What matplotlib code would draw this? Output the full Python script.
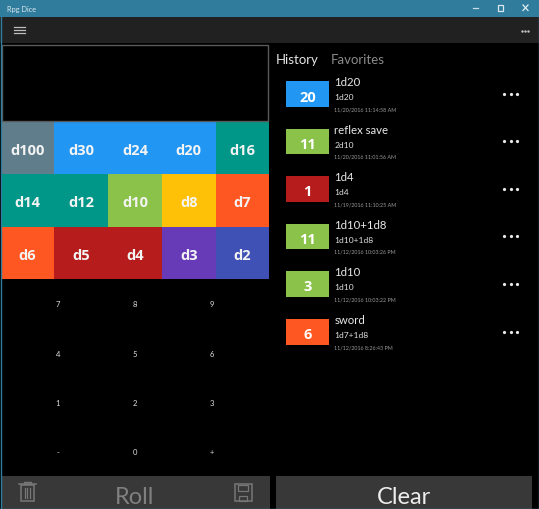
import matplotlib
matplotlib.use("Agg")
import matplotlib.pyplot as plt
from matplotlib.patches import Rectangle

plt.rcParams['font.family'] = ['Lato', 'DejaVu Sans']

W, H = 539, 510

# --- data -----------------------------------------------------------
dice_rows = [
    ["d100", "d30", "d24", "d20", "d16"],
    ["d14", "d12", "d10", "d8", "d7"],
    ["d6", "d5", "d4", "d3", "d2"],
]
dice_colors = [
    ["#607D8B", "#2196F3", "#2196F3", "#2196F3", "#009688"],
    ["#009688", "#009688", "#8BC34A", "#FFC107", "#FF5722"],
    ["#FF5722", "#B71C1C", "#B71C1C", "#673AB7", "#3F51B5"],
]
keypad = [["7", "8", "9"], ["4", "5", "6"], ["1", "2", "3"], ["-", "0", "+"]]
hist_values = ["20", "11", "1", "11", "3", "6"]
hist_names = ["1d20", "reflex save", "1d4", "1d10+1d8", "1d10", "sword"]
hist_dice = ["1d20", "2d10", "1d4", "1d10+1d8", "1d10", "1d7+1d8"]
hist_times = ["11/20/2016 11:14:58 AM", "11/20/2016 11:01:56 AM",
              "11/19/2016 11:10:25 AM", "11/12/2016 10:03:26 PM",
              "11/12/2016 10:03:22 PM", "11/12/2016 8:26:43 PM"]
hist_colors = ["#2196F3", "#8BC34A", "#B71C1C", "#8BC34A", "#8BC34A", "#FF5722"]

# --- layout ---------------------------------------------------------
col_edges = [1, 54, 108, 162, 215.5, 269]
row_edges = [123, 175, 227.5, 279.5]
key_x = [58, 135, 212]
key_y = [304.5, 354, 403, 452]
hist_top = [82, 129.5, 177, 224.5, 272, 320]
BOLD = ['Open Sans', 'DejaVu Sans']

fig = plt.figure(figsize=(W / 100, H / 100), dpi=100, facecolor="black")
ax = fig.add_axes([0, 0, 1, 1])
ax.set_xlim(0, W)
ax.set_ylim(H, 0)
ax.axis("off")


def rect(x0, y0, x1, y1, fc, ec="none", lw=0, z=1):
    ax.add_patch(Rectangle((x0, y0), x1 - x0, y1 - y0, fc=fc, ec=ec, lw=lw, zorder=z))


def text(x, y, s, size, color="white", ha="center", weight="normal"):
    kw = {"family": BOLD} if weight == "bold" else {}
    ax.text(x, y, s, fontsize=size, color=color, ha=ha, va="center_baseline",
            fontweight=weight, zorder=5, **kw)


# chrome
rect(0, 0, W, 18, "#2F7C9C")
rect(0, 18, W, 44, "#212121")
rect(0, 44, W, H, "black")
text(7, 9, "Rpg Dice", 5.3, "#DDE8EE", ha="left")

# window buttons
ax.plot([473, 478], [9.3, 9.3], color="#C8DCE6", lw=0.9, zorder=5)
rect(498, 6, 503, 11.5, "none", "#DCE8EE", 0.9, 5)
ax.plot([523, 528], [6, 11.5], color="#E4EEF2", lw=0.9, zorder=5)
ax.plot([523, 528], [11.5, 6], color="#E4EEF2", lw=0.9, zorder=5)

# hamburger and overflow
for y in (28, 31, 34):
    ax.plot([14, 25], [y, y], color="#BDBDBD", lw=0.9, zorder=5)
ax.plot([522, 525, 528], [31.5, 31.5, 31.5], ls="none", marker="o", ms=0.7, color="#CCCCCC", zorder=5)

# display box
rect(2, 45.5, 268, 121.5, "black", "#5A5A5A", 1.0, 2)

# dice grid
for r, row in enumerate(dice_rows):
    for c, label in enumerate(row):
        rect(col_edges[c], row_edges[r], col_edges[c + 1], row_edges[r + 1], dice_colors[r][c])
        text((col_edges[c] + col_edges[c + 1]) / 2, (row_edges[r] + row_edges[r + 1]) / 2 + 0.5,
             label, 10.5, "#F4F4F4", weight="bold")

# keypad
for r, row in enumerate(keypad):
    for c, label in enumerate(row):
        text(key_x[c], key_y[r], label, 5.5, "#E0E0E0")

# tabs
text(276, 59, "History", 9.5, "#E6E6E6", ha="left")
text(330.5, 59, "Favorites", 9.5, "#8A8A8A", ha="left")

# history list
for i, top in enumerate(hist_top):
    rect(285.5, top, 329, top + 25.5, hist_colors[i])
    text(307.3, top + 14, hist_values[i], 10.5, "white", weight="bold")
    text(334.5, top, hist_names[i], 8.2, "#E8E8E8", ha="left")
    text(334.5, top + 15.5, hist_dice[i], 6.1, "#E0E0E0", ha="left")
    text(334.5, top + 27.5, hist_times[i], 3.9, "#9A9A9A", ha="left")
    ax.plot([504, 510.5, 517], [top + 12.5] * 3, ls="none", marker="o", ms=1.3,
            color="#E8E8E8", zorder=5)

# bottom buttons
rect(1, 477, 270, 510, "#383838")
rect(276, 477, 532, 510, "#383838")
text(135, 496, "Roll", 17, "#808080")
text(404, 496, "Clear", 17, "#EDEDED")

# trash icon
rect(20.5, 486, 33.5, 502, "none", "#777777", 1.1, 5)
ax.plot([18.5, 35.5], [485, 485], color="#777777", lw=1.1, zorder=5)
rect(24, 483, 30.5, 485, "none", "#777777", 1.0, 5)
for x in (24.5, 27, 29.5):
    ax.plot([x, x], [489, 499], color="#777777", lw=0.9, zorder=5)

# save icon
rect(234.5, 485, 251.5, 502, "none", "#777777", 1.1, 5)
rect(238, 485.5, 248, 492, "none", "#777777", 0.9, 5)
rect(239, 497, 246.5, 502, "none", "#777777", 0.9, 5)

# window edge
ax.plot([0.5, 0.5], [18, H], color="#2F7C9C", lw=1, zorder=6)
ax.plot([538.5, 538.5], [18, H], color="#2F7C9C", lw=1, zorder=6)
ax.plot([0, W], [509.5, 509.5], color="#2F7C9C", lw=1, zorder=6)

fig.savefig("out.png", dpi=100, facecolor="black")
